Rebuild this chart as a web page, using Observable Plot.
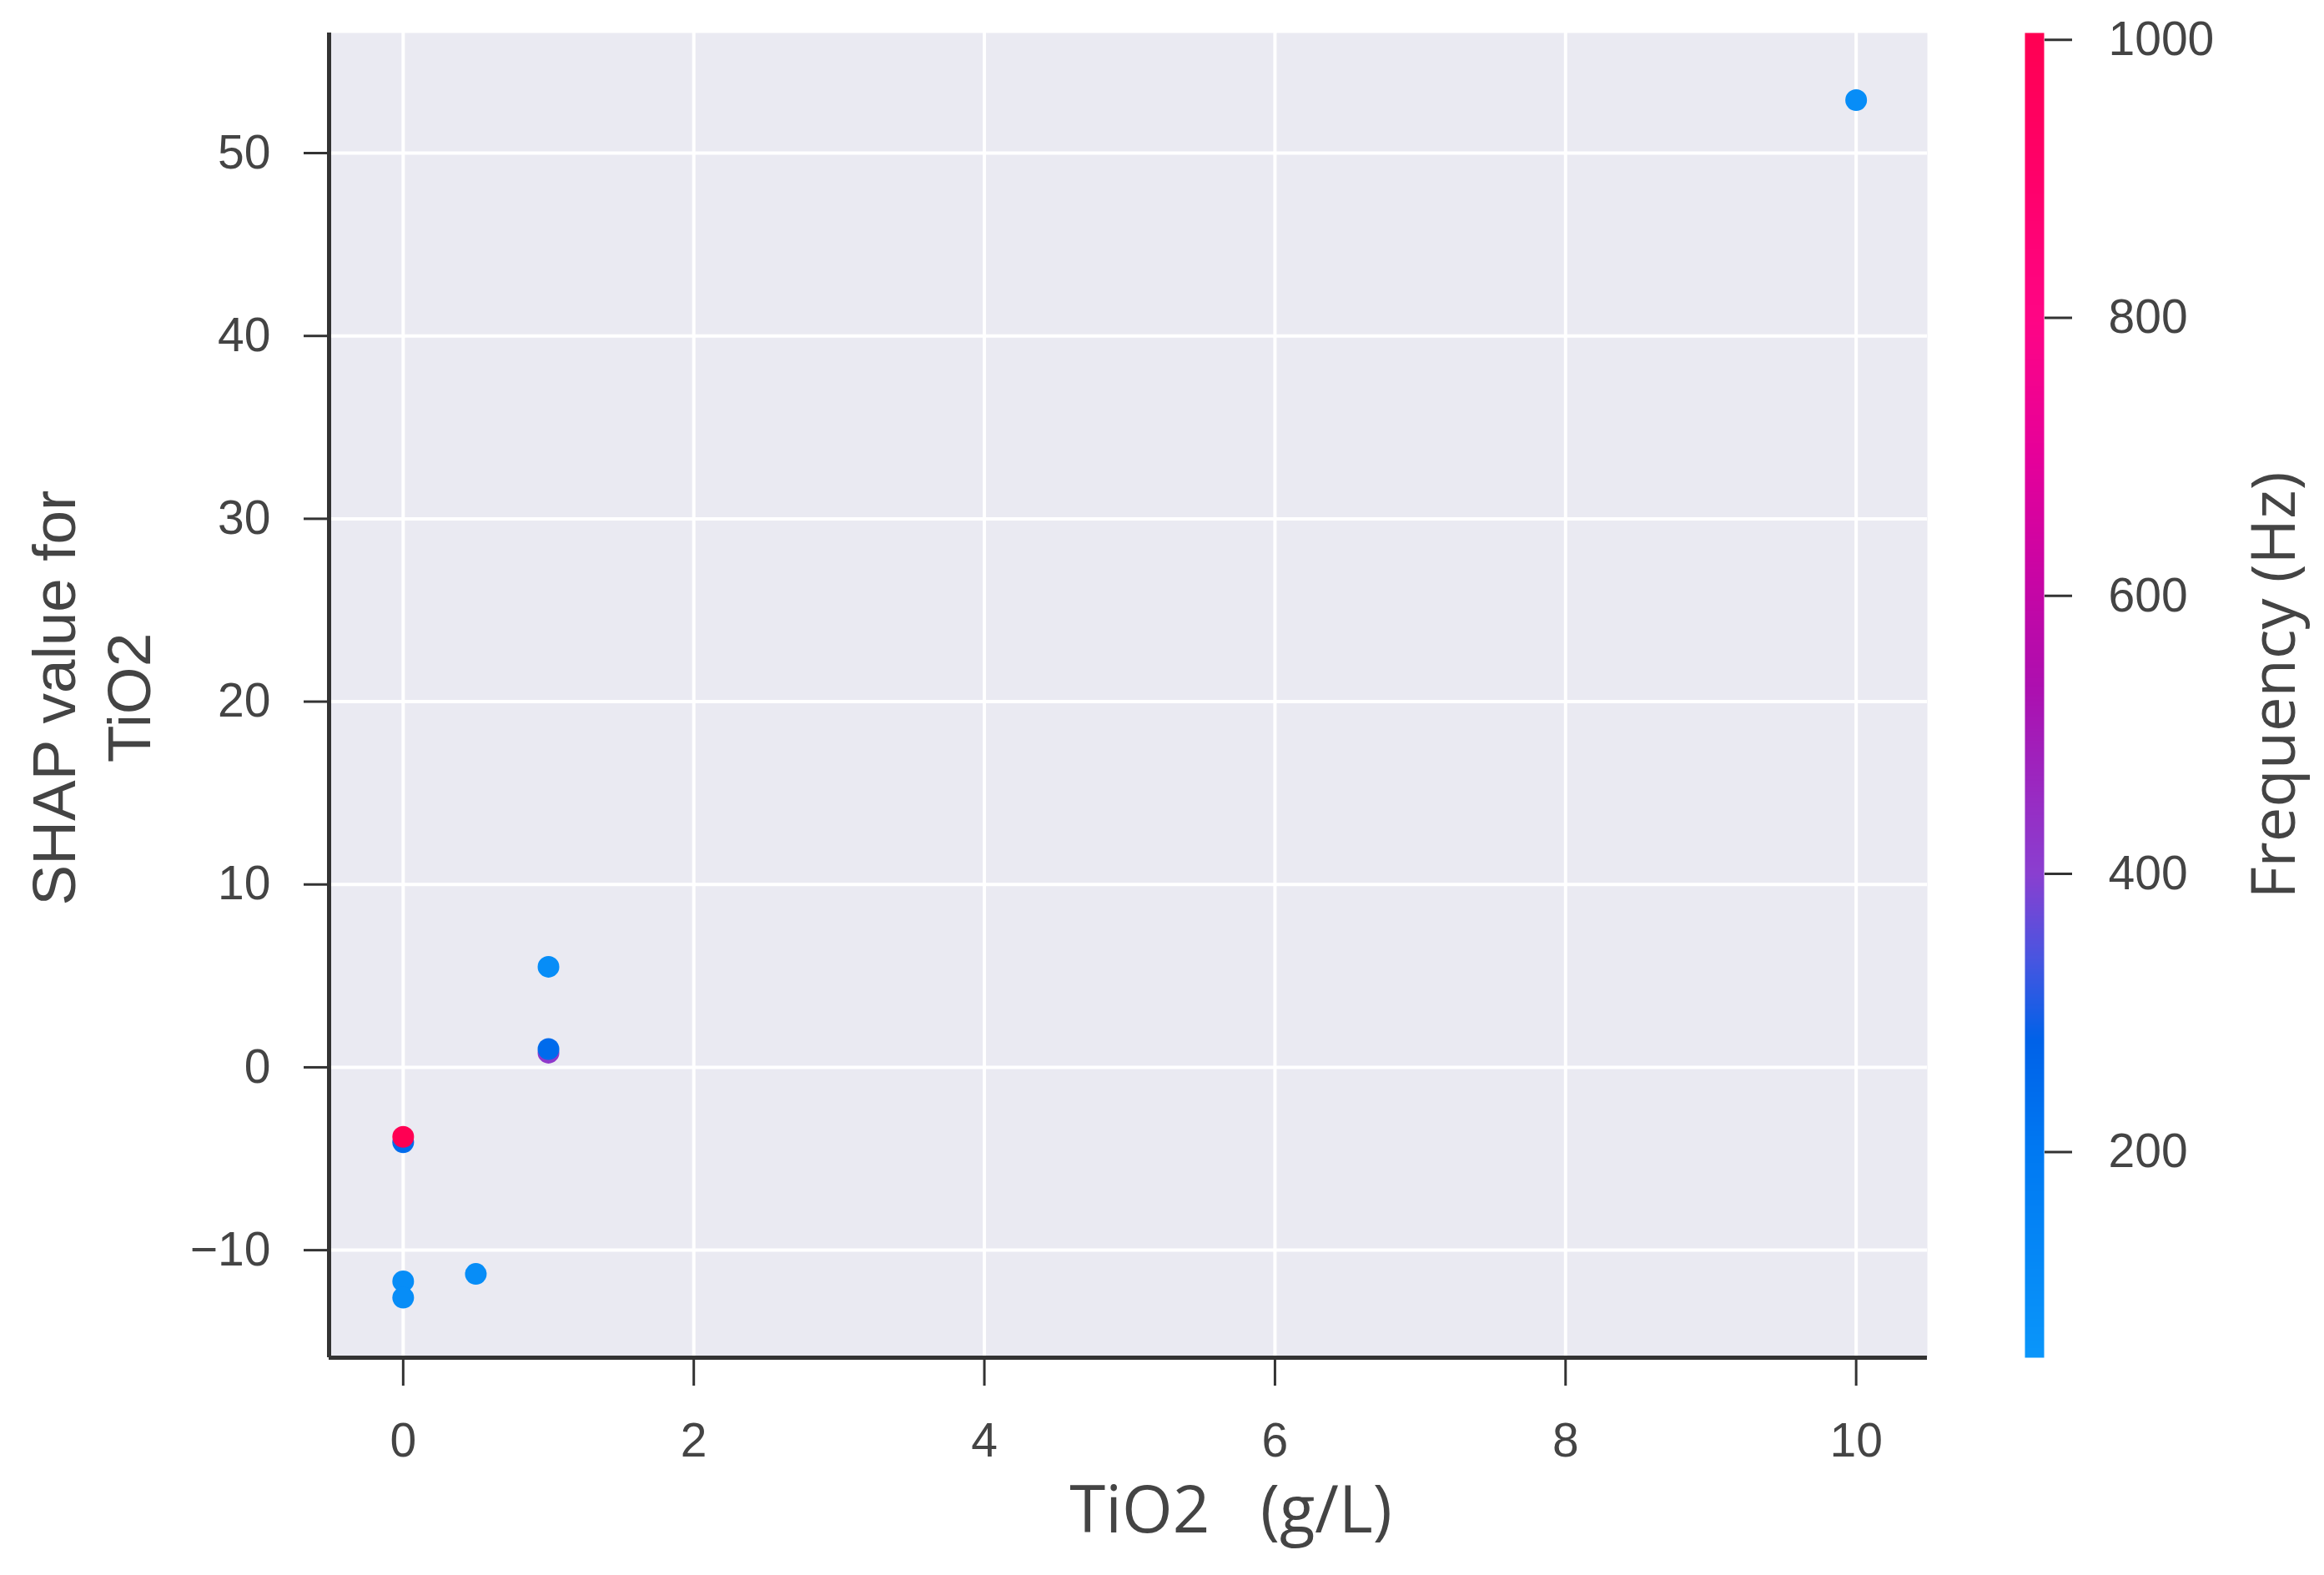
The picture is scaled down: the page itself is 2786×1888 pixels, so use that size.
<!DOCTYPE html>
<html>
<head>
<meta charset="utf-8">
<script src="https://cdn.jsdelivr.net/npm/d3@7"></script>
<script src="https://cdn.jsdelivr.net/npm/@observablehq/plot@0.6"></script>
<style>
  html, body { margin: 0; padding: 0; background: #ffffff; }
  #page { position: relative; width: 2786px; height: 1888px; background: #ffffff; overflow: hidden; }
  #main { position: absolute; left: 0; top: 0; }
  #cbar { position: absolute; left: 2380px; top: 0; }
</style>
</head>
<body>
<div id="page"><div id="main"></div><div id="cbar"></div></div>
<script>
// ---- data ----
const tio2 = [10, 1, 1, 1, 0, 0, 0, 0, 0.5];
const shapValue = [52.9, 5.5, 0.8, 1.0, -4.1, -3.8, -11.7, -12.6, -11.3];
const frequency = [100, 100, 420, 250, 250, 1000, 100, 100, 100];

const xTicks = [0, 2, 4, 6, 8, 10];
const yTicks = [-10, 0, 10, 20, 30, 40, 50];
const cbTicks = [200, 400, 600, 800, 1000];

const xLabel = "TiO2\u00a0\u00a0\u00a0(g/L)";
const yLabel = "SHAP value for\nTiO2";
const cLabel = "Frequency (Hz)";

// colour map stops
const cStops = [52, 200, 280, 340, 400, 531, 600, 700, 800, 900, 1005];
const cColors = ["#0a96fa", "#0079f2", "#0062e8", "#4a55e0", "#8a3fd0", "#ac10b0",
                 "#c406a6", "#e6009a", "#ff0585", "#ff006a", "#ff0052"];

const points = tio2.map((x, i) => ({x, y: shapValue[i], f: frequency[i]}));

const colorScale = {type: "linear", domain: cStops, range: cColors, interpolate: "rgb"};
const tickColor = "#333";
const labelColor = "#444";

const main = Plot.plot({
  width: 2380,
  height: 1888,
  marginLeft: 394,
  marginRight: 70,
  marginTop: 39,
  marginBottom: 261,
  style: {fontFamily: "'Liberation Sans', Arial, sans-serif", fontSize: "57px", color: labelColor, background: "#ffffff"},
  x: {domain: [-0.51, 10.49]},
  y: {domain: [-15.88, 56.57]},
  color: colorScale,
  marks: [
    Plot.frame({fill: "#eaeaf2", stroke: null}),
    Plot.gridX(xTicks, {stroke: "#ffffff", strokeWidth: 4, strokeOpacity: 1}),
    Plot.gridY(yTicks, {stroke: "#ffffff", strokeWidth: 4, strokeOpacity: 1}),
    Plot.dot(points, {x: "x", y: "y", fill: "f", r: 13, stroke: null}),
    Plot.ruleX([-0.51], {stroke: tickColor, strokeWidth: 5}),
    Plot.ruleY([-15.88], {stroke: tickColor, strokeWidth: 5}),
    Plot.axisX(xTicks, {tickSize: 34, tickPadding: 44, stroke: tickColor, strokeWidth: 3, fill: labelColor, label: null, tickFormat: d => String(d)}),
    Plot.axisY(yTicks, {tickSize: 30, tickPadding: 40, stroke: tickColor, strokeWidth: 3, fill: labelColor, label: null, tickFormat: d => d < 0 ? "\u2212" + Math.abs(d) : String(d)}),
    Plot.text([xLabel], {frameAnchor: "bottom", dx: 123, dy: 185, textAnchor: "middle", lineAnchor: "middle", fontSize: 78, fontFamily: "'Open Sans', sans-serif", fill: labelColor}),
    Plot.text([yLabel], {frameAnchor: "left", dx: -288, dy: 3, rotate: -90, textAnchor: "middle", lineAnchor: "middle", lineHeight: 1.22, fontSize: 73, fill: labelColor})
  ]
});
document.getElementById("main").appendChild(main);

const cbar = Plot.plot({
  width: 406,
  height: 1888,
  marginLeft: 47,
  marginRight: 336,
  marginTop: 39,
  marginBottom: 261,
  style: {fontFamily: "'Liberation Sans', Arial, sans-serif", fontSize: "57px", color: labelColor, background: "transparent"},
  x: {domain: [0, 1], axis: null},
  y: {domain: [52, 1005]},
  color: colorScale,
  marks: [
    Plot.raster({x1: 0, x2: 1, y1: 52, y2: 1005, width: 2, height: 800, fill: (x, y) => y, imageRendering: "auto"}),
    Plot.axisY(cbTicks, {anchor: "right", tickSize: 33, tickPadding: 44, stroke: tickColor, strokeWidth: 3, fill: labelColor, label: null, tickFormat: d => String(d)}),
    Plot.text([cLabel], {frameAnchor: "right", dx: 277, dy: -12, rotate: -90, textAnchor: "middle", lineAnchor: "middle", fontSize: 74, fontFamily: "'Open Sans', sans-serif", fill: labelColor})
  ]
});
document.getElementById("cbar").appendChild(cbar);
</script>
</body>
</html>
